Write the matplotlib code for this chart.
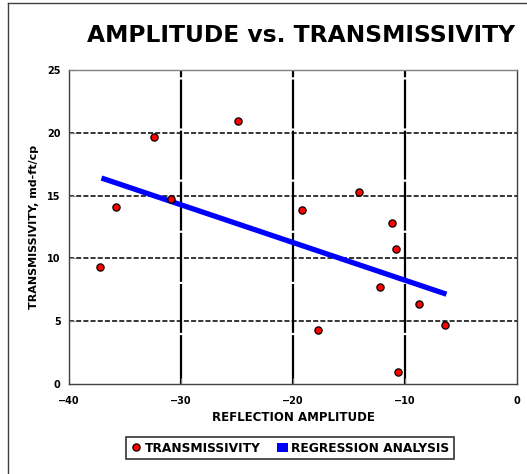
import numpy as np
import matplotlib
matplotlib.use('Agg')
from matplotlib import pyplot as plt
from matplotlib.lines import Line2D
from matplotlib.patches import Patch

# data
amplitude = [-37.2, -35.8, -32.4, -30.9, -24.9, -19.2, -14.1, -17.8,
             -11.2, -10.8, -12.2, -8.75, -6.4, -10.6]
transmissivity = [9.35, 14.1, 19.7, 14.75, 20.95, 13.85, 15.3, 4.3,
                  12.85, 10.75, 7.75, 6.35, 4.7, 0.95]
reg_x = [-37.1, -6.3]
reg_y = [16.4, 7.15]

xticks = [-40, -30, -20, -10, 0]
yticks = [0, 5, 10, 15, 20, 25]

plt.rcParams['font.family'] = ['DejaVu Sans']
plt.rcParams['font.weight'] = 'bold'

fig = plt.figure(figsize=(5.27, 4.74), dpi=100)
ax = fig.add_axes([69/527, 1-384/474, 448/527, 314/474])

# vertical grid (long dashes) and horizontal grid (short dashes)
for xv in xticks[1:-1]:
    ax.axvline(xv, color='black', lw=1.6, dashes=(22, 1.0), zorder=1)
for yv in yticks[1:-1]:
    ax.axhline(yv, color='black', lw=1.1, dashes=(3.3, 1.4), zorder=1)

ax.plot(reg_x, reg_y, color='#0000ff', lw=3.8, solid_capstyle='butt', zorder=2)
ax.plot(amplitude, transmissivity, 'o', color='#ff0000', mec='black',
        mew=0.9, ms=5.2, zorder=3)

ax.set_xlim(-40, 0)
ax.set_ylim(0, 25)
ax.set_xticks(xticks)
ax.set_yticks(yticks)
ax.tick_params(direction='in', length=4, color='#808080', labelsize=7)
ax.tick_params(axis='x', pad=9)
ax.tick_params(axis='y', pad=6)
for lab in ax.get_xticklabels() + ax.get_yticklabels():
    lab.set_fontweight('bold')
for s in ax.spines.values():
    s.set_color('#404040')
    s.set_linewidth(1)
ax.spines['top'].set_color('#808080')

ax.set_xlabel('REFLECTION AMPLITUDE', fontsize=8.5, fontweight='bold', labelpad=3)
ax.set_ylabel('TRANSMISSIVITY, md-ft/cp', fontsize=8, fontweight='bold', labelpad=6)

fig.text(301/527, 1-36/474, 'AMPLITUDE vs. TRANSMISSIVITY', fontsize=16.8,
         fontweight='heavy', ha='center', va='center')

handles = [Line2D([], [], marker='o', ls='none', color='#ff0000', mec='black',
                  mew=0.9, ms=5.2),
           Patch(facecolor='#0000ff', edgecolor='none')]
leg = fig.legend(handles, ['TRANSMISSIVITY', 'REGRESSION ANALYSIS'],
                 loc='center', bbox_to_anchor=(290/527, 1-448/474), ncol=2,
                 prop={'size': 8.8, 'weight': 'bold'}, frameon=True,
                 fancybox=False, handlelength=0.9, handletextpad=0.3,
                 columnspacing=1.3, borderpad=0.35)
leg.get_frame().set_edgecolor('black')
leg.get_frame().set_linewidth(1.2)

# border lines of the original chart frame
fig.add_artist(Line2D([8/527, 8/527], [0, 1-3/474], color='#404040', lw=1))
fig.add_artist(Line2D([8/527, 1], [1-3/474, 1-3/474], color='#404040', lw=1))

fig.savefig('out.png', dpi=100)
